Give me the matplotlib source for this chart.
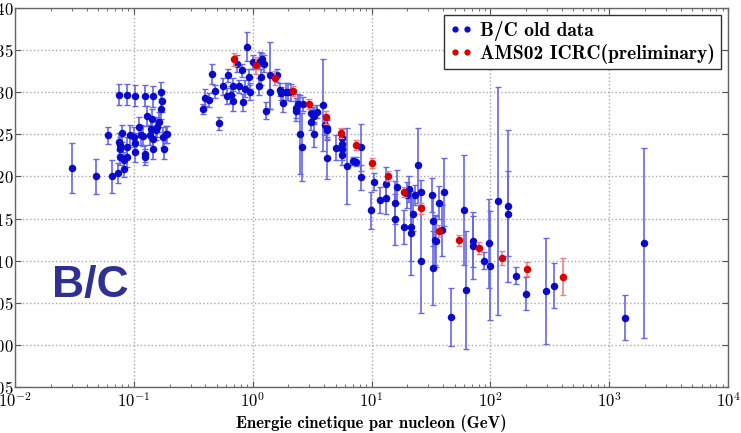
import math
import matplotlib
matplotlib.use('Agg')
import matplotlib.pyplot as plt
from matplotlib.lines import Line2D
from matplotlib.ticker import FuncFormatter, LogLocator, MultipleLocator

plt.rcParams['mathtext.fontset'] = 'cm'

# ---- old B/C data ----
old_E = [0.030, 0.048, 0.065, 0.073, 0.061, 0.075, 0.088, 0.103, 0.123, 0.146,
         0.170, 0.174, 0.168, 0.164, 0.129, 0.142, 0.111, 0.158, 0.139, 0.093,
         0.080, 0.075, 0.076, 0.076, 0.076, 0.082, 0.083, 0.087, 0.087, 0.1005,
         0.103, 0.103, 0.115, 0.120, 0.123, 0.123, 0.137, 0.144, 0.146, 0.154,
         0.175, 0.178, 0.187, 0.190,
         0.380, 0.400, 0.430, 0.455, 0.483, 0.525, 0.560, 0.605, 0.625, 0.658,
         0.689, 0.689, 0.735, 0.764, 0.809, 0.835, 0.863, 0.903, 0.939, 0.958,
         1.01, 1.12, 1.15, 1.18, 1.19, 1.25, 1.30, 1.40, 1.40, 1.61,
         1.70, 1.72, 1.81, 1.91, 2.00, 2.10, 2.31, 2.31, 2.43, 2.51,
         2.60, 2.67, 3.10, 3.20, 3.30, 3.50, 3.10, 3.30, 3.94, 4.10,
         4.20, 4.25, 4.20, 5.00, 5.60, 5.60, 5.60, 5.60, 6.27, 7.04,
         7.40, 8.17, 8.10, 9.86, 10.5, 11.8, 13.2, 13.2, 15.8, 16.3,
         15.8, 18.6, 19.8, 20.8, 21.5, 21.5, 22.5, 23.2, 24.5, 25.9,
         26.2, 32.6, 32.9, 33.1, 34.3, 35.0, 37.3, 38.9, 40.8, 46.8,
         60.5, 62.4, 71.3, 72.0, 88.7, 97.0, 99.0, 115, 142, 142,
         163, 198, 293, 344, 1365, 1946]
old_BC = [0.210, 0.200, 0.200, 0.204, 0.249, 0.297, 0.297, 0.296, 0.296, 0.295,
          0.300, 0.289, 0.280, 0.265, 0.272, 0.268, 0.259, 0.259, 0.256, 0.249,
          0.251, 0.241, 0.237, 0.232, 0.223, 0.219, 0.209, 0.235, 0.223, 0.247,
          0.240, 0.229, 0.249, 0.248, 0.227, 0.223, 0.249, 0.244, 0.233, 0.255,
          0.247, 0.233, 0.250, 0.250,
          0.280, 0.2935, 0.291, 0.322, 0.301, 0.263, 0.307, 0.2955, 0.320, 0.297,
          0.307, 0.290, 0.334, 0.307, 0.326, 0.288, 0.304, 0.354, 0.318, 0.3005,
          0.336, 0.307, 0.3375, 0.318, 0.339, 0.334, 0.278, 0.320, 0.3005, 0.320,
          0.303, 0.2985, 0.287, 0.3005, 0.3005, 0.300, 0.281, 0.278, 0.286, 0.250,
          0.235, 0.286, 0.275, 0.273, 0.272, 0.277, 0.265, 0.250, 0.285, 0.261,
          0.257, 0.255, 0.2215, 0.234, 0.246, 0.239, 0.232, 0.225, 0.2125, 0.218,
          0.2175, 0.2345, 0.199, 0.160, 0.1935, 0.172, 0.191, 0.175, 0.169, 0.188,
          0.149, 0.140, 0.178, 0.185, 0.140, 0.1325, 0.155, 0.178, 0.213, 0.181,
          0.100, 0.178, 0.1475, 0.091, 0.1245, 0.123, 0.169, 0.136, 0.1815, 0.033,
          0.160, 0.065, 0.118, 0.123, 0.100, 0.1205, 0.094, 0.171, 0.165, 0.156,
          0.082, 0.061, 0.064, 0.0705, 0.0325, 0.121]
old_err = [0.030, 0.021, 0.020, 0.012, 0.010, 0.0125, 0.0125, 0.0125, 0.0125, 0.0125,
           0.012, 0.012, 0.012, 0.012, 0.012, 0.012, 0.012, 0.012, 0.012, 0.012,
           0.010, 0.010, 0.010, 0.010, 0.010, 0.010, 0.010, 0.012, 0.012, 0.012,
           0.012, 0.012, 0.012, 0.012, 0.010, 0.010, 0.012, 0.012, 0.012, 0.012,
           0.012, 0.012, 0.010, 0.010,
           0.006, 0.010, 0.008, 0.012, 0.008, 0.008, 0.010, 0.010, 0.008, 0.010,
           0.010, 0.012, 0.010, 0.008, 0.008, 0.010, 0.010, 0.017, 0.010, 0.010,
           0.008, 0.010, 0.010, 0.010, 0.008, 0.010, 0.010, 0.040, 0.020, 0.008,
           0.008, 0.008, 0.010, 0.010, 0.010, 0.010, 0.012, 0.012, 0.012, 0.047,
           0.040, 0.008, 0.010, 0.010, 0.010, 0.008, 0.010, 0.015, 0.055, 0.012,
           0.012, 0.012, 0.025, 0.015, 0.010, 0.010, 0.012, 0.012, 0.045, 0.005,
           0.005, 0.028, 0.015, 0.022, 0.010, 0.015, 0.020, 0.020, 0.025, 0.020,
           0.030, 0.020, 0.015, 0.015, 0.040, 0.050, 0.020, 0.012, 0.044, 0.015,
           0.062, 0.020, 0.030, 0.044, 0.030, 0.030, 0.020, 0.030, 0.040, 0.034,
           0.065, 0.070, 0.040, 0.030, 0.010, 0.053, 0.065, 0.135, 0.090, 0.050,
           0.010, 0.020, 0.063, 0.027, 0.027, 0.113]

# ---- AMS02 ICRC (preliminary) ----
ams_E = [0.69, 1.06, 1.55, 2.20, 3.0, 4.12, 5.52, 7.42, 10.1, 13.7,
         18.6, 26.2, 37.1, 54.3, 80.9, 125, 205, 412]
ams_BC = [0.339, 0.332, 0.317, 0.301, 0.286, 0.270, 0.252, 0.237, 0.2155, 0.200,
          0.182, 0.162, 0.1355, 0.124, 0.1155, 0.103, 0.090, 0.081]
ams_err = [0.008, 0.010, 0.008, 0.006, 0.006, 0.008, 0.006, 0.006, 0.006, 0.006,
           0.006, 0.006, 0.007, 0.007, 0.007, 0.008, 0.008, 0.022]

xticks = [1e-2, 1e-1, 1e0, 1e1, 1e2, 1e3, 1e4]
legend_labels = ['B/C old data', 'AMS02 ICRC(preliminary)']

W, H = 741, 433
fig = plt.figure(figsize=(W / 100, H / 100), dpi=100)
ax = fig.add_axes([15 / W, 1 - 387 / H, (728 - 15) / W, (387 - 8) / H])

blue, blue_e = '#0a0acc', '#6767e6'
red, red_e = '#d80000', '#ee8080'

ax.errorbar(old_E, old_BC, yerr=old_err, fmt='o', ms=4.4, color=blue,
            ecolor=blue_e, elinewidth=1.2, capsize=2.2, capthick=1.0, zorder=3)
ax.errorbar(ams_E, ams_BC, yerr=ams_err, fmt='o', ms=4.4, color=red,
            ecolor=red_e, elinewidth=1.2, capsize=2.2, capthick=1.0, zorder=4)

ax.set_xscale('log')
ax.set_xlim(1e-2, 1e4)
ax.set_ylim(-0.05, 0.40)
ax.set_xticks(xticks)
ax.xaxis.set_minor_locator(LogLocator(base=10, subs=range(2, 10), numticks=20))
ax.xaxis.set_major_formatter(FuncFormatter(lambda v, p: r'$10^{%d}$' % round(math.log10(v))))
ax.yaxis.set_major_locator(MultipleLocator(0.05))
ax.yaxis.set_major_formatter(FuncFormatter(lambda v, p: r'$%.2f$' % v))

ax.grid(True, which='major', linestyle=':', color='#a8a8a8', linewidth=1.0)
ax.tick_params(which='both', direction='in', top=True, right=True, colors='#555555')
ax.tick_params(which='major', length=4)
ax.tick_params(which='minor', length=2)
ax.tick_params(axis='x', labelsize=12, labelcolor='black', pad=4)
ax.tick_params(axis='y', labelsize=12, labelcolor='black', pad=1)
for s in ax.spines.values():
    s.set_color('#666666')
    s.set_linewidth(1.0)

ax.set_xlabel('Energie cinetique par nucleon (GeV)', family='cmb10', fontsize=12, labelpad=2)

handles = [Line2D([], [], marker='o', ls='none', color=blue, ms=3.5),
           Line2D([], [], marker='o', ls='none', color=red, ms=3.5)]
leg = ax.legend(handles, legend_labels,
                loc='upper right', numpoints=2, fancybox=False, framealpha=1,
                edgecolor='#333333', prop={'family': 'cmb10', 'size': 14},
                borderaxespad=0.35, handlelength=1.2, handletextpad=0.4,
                labelspacing=0.15, borderpad=0.3)
leg.get_frame().set_linewidth(1.0)

fig.text(52 / W, 1 - 297 / H, 'B/C', family=['Liberation Sans Narrow', 'Liberation Sans'],
         fontweight='bold', fontsize=32, color='#2e3192', ha='left', va='baseline')

fig.savefig('out.png', dpi=100)
